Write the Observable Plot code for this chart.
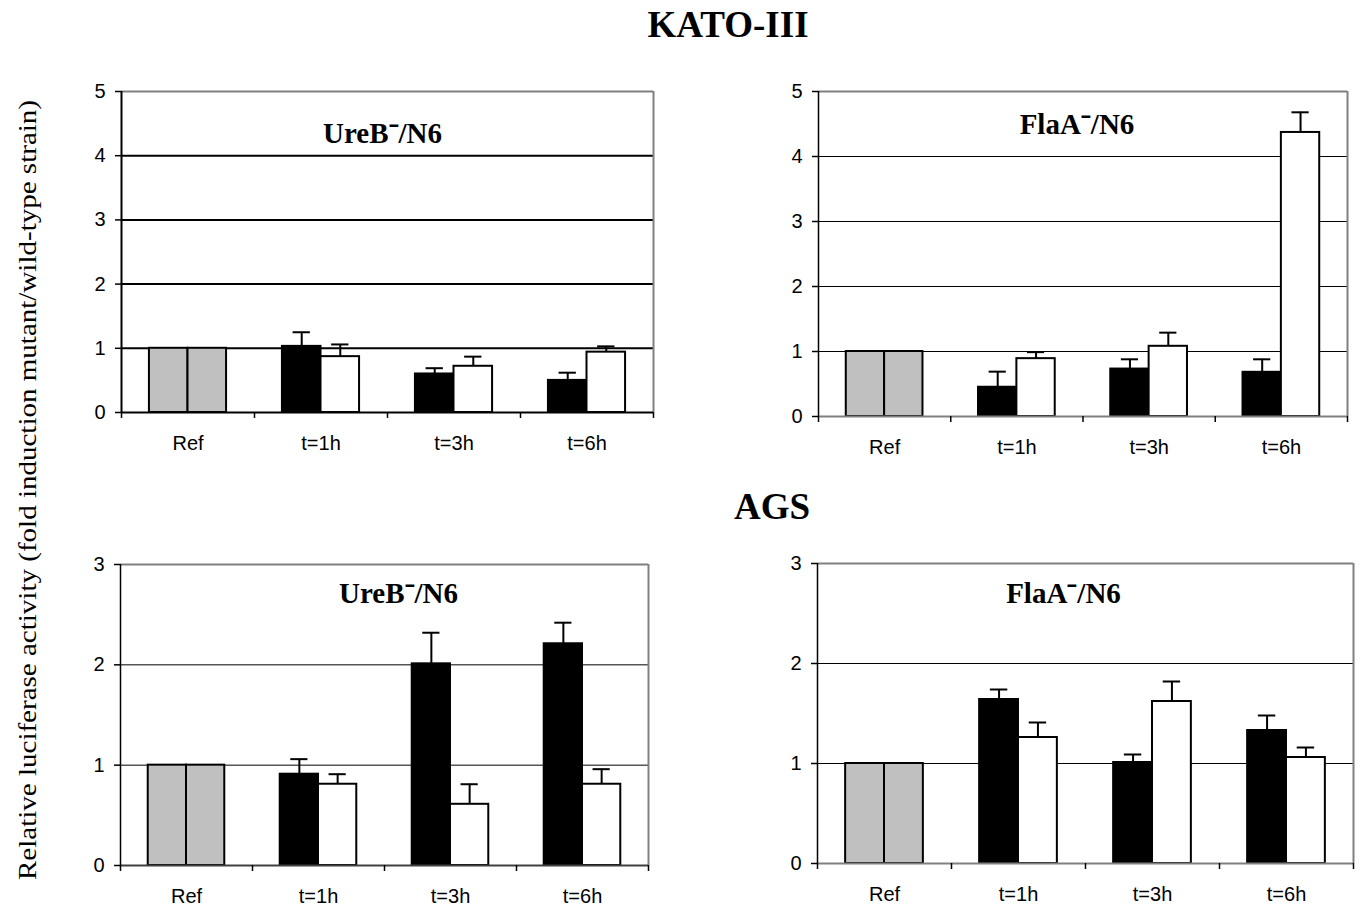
<!DOCTYPE html>
<html>
<head>
<meta charset="utf-8">
<script src="https://cdn.jsdelivr.net/npm/d3@7"></script>
<script src="https://cdn.jsdelivr.net/npm/@observablehq/plot@0.6"></script>
<style>
  html, body { margin: 0; padding: 0; background: white; }
  #page { position: relative; width: 1360px; height: 910px; overflow: hidden; }
  #page > svg, #page > figure { position: absolute; margin: 0; }
</style>
</head>
<body>
<div id="page"></div>
<script>
// ---- data ----
const categories = ["Ref", "t=1h", "t=3h", "t=6h"];

// KATO-III, UreB-/N6
const katoUreB_mut = [1.0, 1.03, 0.60, 0.50];
const katoUreB_mutErr = [null, 1.25, 0.69, 0.62];
const katoUreB_wt = [1.0, 0.87, 0.72, 0.94];
const katoUreB_wtErr = [null, 1.06, 0.87, 1.03];

// KATO-III, FlaA-/N6
const katoFlaA_mut = [1.0, 0.45, 0.73, 0.68];
const katoFlaA_mutErr = [null, 0.69, 0.88, 0.88];
const katoFlaA_wt = [1.0, 0.89, 1.08, 4.37];
const katoFlaA_wtErr = [null, 0.99, 1.29, 4.68];

// AGS, UreB-/N6
const agsUreB_mut = [1.0, 0.91, 2.01, 2.21];
const agsUreB_mutErr = [null, 1.06, 2.32, 2.42];
const agsUreB_wt = [1.0, 0.81, 0.61, 0.81];
const agsUreB_wtErr = [null, 0.91, 0.81, 0.96];

// AGS, FlaA-/N6
const agsFlaA_mut = [1.0, 1.64, 1.01, 1.33];
const agsFlaA_mutErr = [null, 1.74, 1.09, 1.48];
const agsFlaA_wt = [1.0, 1.26, 1.62, 1.06];
const agsFlaA_wtErr = [null, 1.41, 1.82, 1.16];

const yTicksKato = [0, 1, 2, 3, 4, 5];
const yTicksAgs = [0, 1, 2, 3];

// ---- layout ----
const page = document.getElementById("page");
const NS = "http://www.w3.org/2000/svg";

// background svg with main titles and shared y label
const bg = document.createElementNS(NS, "svg");
bg.setAttribute("width", 1360);
bg.setAttribute("height", 910);
bg.style.left = "0px"; bg.style.top = "0px";
function addText(txt, attrs) {
  const t = document.createElementNS(NS, "text");
  for (const k in attrs) t.setAttribute(k, attrs[k]);
  t.textContent = txt;
  bg.appendChild(t);
  return t;
}
addText("KATO-III", {x: 728, y: 37, "text-anchor": "middle", "font-family": "Liberation Serif", "font-weight": "bold", "font-size": 37});
addText("AGS", {x: 772, y: 519, "text-anchor": "middle", "font-family": "Liberation Serif", "font-weight": "bold", "font-size": 37});
addText("Relative luciferase activity (fold induction mutant/wild-type strain)", {
  x: 0, y: 0, transform: "translate(36,490) rotate(-90)", "text-anchor": "middle",
  "font-family": "Liberation Serif", "font-size": 25, textLength: 780, lengthAdjust: "spacingAndGlyphs"
});
page.appendChild(bg);

function makePanel(cfg) {
  const {mut, mutErr, wt, wtErr, yTicks, title, frame, gridWidth, bottomColor, leftWidth, titleDx, titleDy} = cfg;
  const ymax = yTicks[yTicks.length - 1];
  const mL = 50, mT = 30, mB = 45, mR = cfg.mR ?? 10;
  const fw = frame.x1 - frame.x0, fh = frame.y1 - frame.y0;

  const bars = [];
  categories.forEach((c, i) => {
    bars.push({cat: c, i, s: 0, value: mut[i], err: mutErr[i]});
    bars.push({cat: c, i, s: 1, value: wt[i], err: wtErr[i]});
  });
  const left = d => d.i + (d.s === 0 ? 0.21 : 0.5);
  const right = d => d.i + (d.s === 0 ? 0.5 : 0.79);
  const center = d => d.i + (d.s === 0 ? 0.355 : 0.645);
  const fillOf = d => d.i === 0 ? "#c0c0c0" : d.s === 0 ? "black" : "white";
  const errs = bars.filter(d => d.err != null);

  const svg = Plot.plot({
    width: mL + fw + mR,
    height: mT + fh + mB,
    marginLeft: mL, marginRight: mR, marginTop: mT, marginBottom: mB,
    x: {domain: [0, 4], label: null},
    y: {domain: [0, ymax], label: null},
    style: {fontFamily: "Liberation Sans", fontSize: "20px", background: "white", overflow: "visible", color: "black"},
    marks: [
      Plot.ruleY(yTicks.slice(1, -1), {stroke: "black", strokeWidth: gridWidth}),
      Plot.ruleY([ymax], {stroke: "#808080", strokeWidth: 2}),
      Plot.ruleX([4], {stroke: "#808080", strokeWidth: 2}),
      Plot.rect(bars, {x1: left, x2: right, y1: 0, y2: "value", fill: fillOf, stroke: "black", strokeWidth: 2}),
      Plot.ruleX(errs, {x: center, y1: "value", y2: "err", stroke: "black", strokeWidth: 2}),
      Plot.ruleY(errs, {y: "err", x1: d => center(d) - 0.065, x2: d => center(d) + 0.065, stroke: "black", strokeWidth: 2}),
      Plot.ruleY([0], {stroke: bottomColor, strokeWidth: 2}),
      Plot.ruleX([0], {stroke: "black", strokeWidth: leftWidth}),
      Plot.axisY({ticks: yTicks, tickSize: 6, tickPadding: 10, tickFormat: d3.format("d"), fontSize: 20, label: null, strokeWidth: 1.5}),
      Plot.axisX({ticks: [0, 1, 2, 3, 4], tickSize: 6, tickFormat: () => "", label: null, strokeWidth: 1.5}),
      Plot.axisX({ticks: [0.5, 1.5, 2.5, 3.5], tickSize: 0, tickPadding: 23, tickFormat: v => categories[Math.floor(v)], fontSize: 20, label: null}),
      Plot.text([title], {frameAnchor: "top", lineAnchor: "bottom", textAnchor: "middle", dx: titleDx, dy: titleDy,
        fontFamily: "Liberation Serif", fontWeight: "bold", fontSize: 29})
    ]
  });
  svg.style.position = "absolute";
  svg.style.left = (frame.x0 - mL) + "px";
  svg.style.top = (frame.y0 - mT) + "px";
  page.appendChild(svg);
}

makePanel({mut: katoUreB_mut, mutErr: katoUreB_mutErr, wt: katoUreB_wt, wtErr: katoUreB_wtErr,
  yTicks: yTicksKato, title: "UreB⁻/N6", frame: {x0: 121, x1: 653, y0: 91, y1: 412},
  gridWidth: 2, bottomColor: "black", leftWidth: 2, titleDx: -5, titleDy: 51});
makePanel({mut: katoFlaA_mut, mutErr: katoFlaA_mutErr, wt: katoFlaA_wt, wtErr: katoFlaA_wtErr,
  yTicks: yTicksKato, title: "FlaA⁻/N6", frame: {x0: 818, x1: 1347, y0: 91, y1: 416},
  gridWidth: 1, bottomColor: "#808080", leftWidth: 1.5, titleDx: -6, titleDy: 42});
makePanel({mut: agsUreB_mut, mutErr: agsUreB_mutErr, wt: agsUreB_wt, wtErr: agsUreB_wtErr,
  yTicks: yTicksAgs, title: "UreB⁻/N6", frame: {x0: 120, x1: 648, y0: 564, y1: 865},
  gridWidth: 1, bottomColor: "#404040", leftWidth: 1.5, titleDx: 14, titleDy: 38});
makePanel({mut: agsFlaA_mut, mutErr: agsFlaA_mutErr, wt: agsFlaA_wt, wtErr: agsFlaA_wtErr,
  yTicks: yTicksAgs, title: "FlaA⁻/N6", frame: {x0: 817, x1: 1353, y0: 563, y1: 863},
  gridWidth: 1, bottomColor: "#808080", leftWidth: 1.5, titleDx: -22, titleDy: 39, mR: 7});
</script>
</body>
</html>
